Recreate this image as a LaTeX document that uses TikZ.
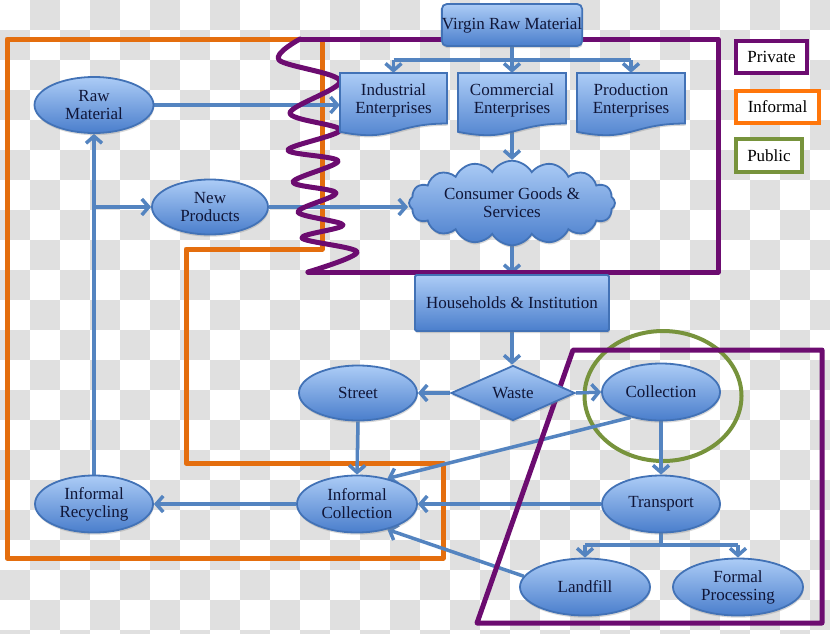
\documentclass[tikz,border=0pt]{standalone}
\usepackage{fontspec}
\setmainfont{Liberation Serif}
\usetikzlibrary{shapes.geometric,shapes.symbols,arrows.meta,shadows,calc}
\definecolor{gridgrey}{RGB}{224,224,224}
\definecolor{linkblue}{RGB}{84,132,192}
\definecolor{nodetop}{RGB}{172,204,246}
\definecolor{nodebot}{RGB}{74,126,204}
\definecolor{nodeborder}{RGB}{66,114,182}
\definecolor{txt}{RGB}{16,22,56}
\definecolor{purp}{RGB}{108,12,112}
\definecolor{orng}{RGB}{228,110,14}
\definecolor{lorng}{RGB}{255,118,10}
\definecolor{grn}{RGB}{119,147,60}
\pgfdeclarelayer{bg}
\pgfdeclarelayer{conns}
\pgfdeclarelayer{frames}
\pgfsetlayers{bg,conns,frames,main}
\tikzset{
  bluefill/.style={draw=nodeborder, line width=1.8pt, top color=nodetop, bottom color=nodebot,
    text=txt, font=\fontsize{17}{18}\selectfont, align=center,
    drop shadow={shadow xshift=0.6pt, shadow yshift=-2.2pt, opacity=0.3}},
  ell/.style={bluefill, ellipse, inner sep=0pt},
  doctext/.style={text=txt, font=\fontsize{17}{18}\selectfont, align=center, inner sep=0pt},
  conn/.style={draw=linkblue, line width=3.5pt, -{Straight Barb[length=7pt,width=16pt]}},
  plainline/.style={draw=linkblue, line width=3.5pt},
  framepurp/.style={draw=purp, line width=5pt, line join=round, line cap=round},
  frameorng/.style={draw=orng, line width=5pt, line join=round, line cap=round},
  legendbox/.style={fill=white, line width=4.5pt, font=\fontsize{17}{18}\selectfont, text=black, inner sep=0pt}
}
\newcommand{\docpath}[4]{%
  \path[bluefill] (#1,#2) -- ({#1+#3},#2) -- ({#1+#3},{#2+0.802*#4})
    .. controls ({#1+0.5*#3},{#2+0.802*#4}) and ({#1+0.5*#3},{#2+1.1075*#4}) ..
    (#1,{#2+0.934*#4}) -- cycle;}
\begin{document}
\begin{tikzpicture}[x=1pt,y=-1pt]
\useasboundingbox (0,0) rectangle (830,633);
\begin{pgfonlayer}{bg}
\clip (0,0) rectangle (830,633);
\fill[white] (0,0) rectangle (830,633);
\foreach \j in {0,...,21}{
  \foreach \i in {0,...,13}{
    \fill[gridgrey] ({60*\i+mod(\j+1,2)*30},{30*\j}) rectangle ++(30,30);
  }
}
% informal frame
\draw[frameorng] (7,39) -- (322,39) -- (322,249) -- (186,249) -- (186,463) -- (443,463) -- (443,558) -- (7,558) -- cycle;
% public circle
\draw[grn, line width=4pt] (663,396) ellipse [x radius=78.5, y radius=65];
\end{pgfonlayer}
\begin{pgfonlayer}{frames}
% private frame (top)
\draw[framepurp] (308,272) -- (718,272) -- (718,39) -- (300,39);
\draw[framepurp] plot[smooth, tension=0.55] coordinates {(300,39) (279,60) (340,81) (290,113) (340,130) (288,150) (338,161) (293,182) (336,193) (298,212) (343,225) (302,238) (357,252) (308,272)};
% private frame (bottom right)
\draw[framepurp] (573,350) -- (822,350) -- (822,623) -- (477,623) -- cycle;
\end{pgfonlayer}

% nodes
\docpath{340}{73}{107}{63}
\docpath{458}{73}{108}{63}
\docpath{577}{73}{108}{63}
\node[doctext, minimum width=107, minimum height=54] (ind) at (393.5,100) {Industrial\\Enterprises};
\node[doctext, minimum width=108, minimum height=54] (comm) at (512,100) {Commercial\\Enterprises};
\node[doctext, minimum width=108, minimum height=54] (prod) at (631,100) {Production\\Enterprises};
\node[bluefill, rounded corners=5pt, minimum width=140, minimum height=42, inner sep=0pt] (vrm) at (512,25) {Virgin Raw Material};
\node[ell, minimum width=119, minimum height=56] (raw) at (94,105) {Raw\\Material};
\node[ell, minimum width=116, minimum height=55] (newp) at (210,207) {New\\Products};
\node[bluefill, cloud, cloud puffs=16, cloud puff arc=120, aspect=3, minimum width=206, minimum height=70, inner sep=0pt] (cloud) at (512,203) {Consumer Goods \&\\Services};
\node[bluefill, rounded corners=1.5pt, minimum width=194, minimum height=56, inner sep=0pt] (house) at (512,303) {Households \& Institution};
\node[bluefill, diamond, aspect=2.3, minimum width=124, minimum height=55, inner sep=0pt] (waste) at (513,393) {Waste};
\node[ell, minimum width=118, minimum height=55] (street) at (358,393) {Street};
\node[ell, minimum width=118, minimum height=57] (coll) at (661,392) {Collection};
\node[ell, minimum width=118, minimum height=57] (trans) at (661,504) {Transport};
\node[ell, minimum width=130, minimum height=57] (land) at (585,587) {Landfill};
\node[ell, minimum width=130, minimum height=57] (form) at (738,587) {Formal\\Processing};
\node[ell, minimum width=120, minimum height=57] (icol) at (357,504) {Informal\\Collection};
\node[ell, minimum width=118, minimum height=57] (irec) at (94,504) {Informal\\Recycling};
% legend
\node[legendbox, draw=purp, minimum width=71, minimum height=32] (lpriv) at (771.5,57) {Private};
\node[legendbox, draw=lorng, minimum width=83, minimum height=32] (linf) at (777.5,107) {Informal};
\node[legendbox, draw=grn, minimum width=66, minimum height=33] (lpub) at (769,155.5) {Public};

% connectors
\coordinate (vb) at (512,60);
\coordinate (tb) at (661,545);
\begin{pgfonlayer}{conns}
\draw[plainline] (vrm.south) -- (vb);
\draw[plainline] (ind.north |- vb) -- (prod.north |- vb);
\draw[conn] (ind.north |- vb) -- (ind.north);
\draw[conn] (vb) -- (comm.north);
\draw[conn] (prod.north |- vb) -- (prod.north);
\draw[conn] (raw.east) -- (raw.east -| ind.west);
\draw[conn] (irec.north) -- (raw.south);
\draw[conn] (raw.south |- newp.west) -- (newp.west);
\draw[conn] (newp.east) -- (newp.east -| cloud.west);
\draw[conn] (comm.south) -- (cloud.north);
\draw[conn] (cloud.south) -- (house.north);
\draw[conn] (house.south) -- (house.south |- waste.north);
\draw[conn] (waste.west) -- (street.east);
\draw[conn] (waste.east) -- (coll.west);
\draw[conn] (coll.south) -- (trans.north);
\draw[conn] (street.south) -- (icol.north);
\draw[conn] (coll.-140) -- (icol.40);
\draw[conn] (trans.west) -- (icol.east);
\draw[conn] (land.170) -- (icol.-40);
\draw[conn] (icol.west) -- (irec.east);
\draw[plainline] (trans.south) -- (tb);
\draw[plainline] (land.north |- tb) -- (form.north |- tb);
\draw[conn] (land.north |- tb) -- (land.north);
\draw[conn] (form.north |- tb) -- (form.north);
\end{pgfonlayer}
\end{tikzpicture}
\end{document}
